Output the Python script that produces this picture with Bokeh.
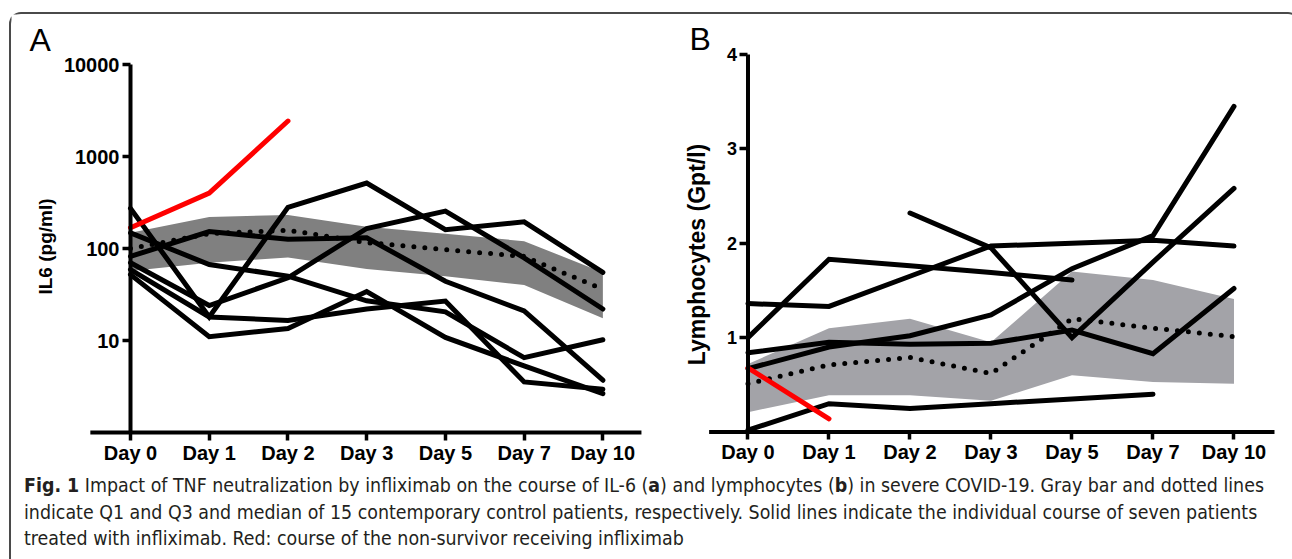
import math
from bokeh.plotting import figure
from bokeh.models import FixedTicker, Label, Div, Range1d, NumeralTickFormatter
from bokeh.layouts import column, row
from bokeh.embed import file_html
from bokeh.resources import INLINE

# ---------------- data ----------------
days = ["Day 0", "Day 1", "Day 2", "Day 3", "Day 5", "Day 7", "Day 10"]

# Panel A: IL-6 (pg/ml), log axis
il6_ticks = [10, 100, 1000, 10000]
il6_q1 = [57, 70, 80, 60, 50, 40, 17.5]
il6_q3 = [148, 220, 232, 172, 145, 120, 55]
il6_median = [100, 145, 158, 116, 97, 82, 36]
il6_p1 = [273, 18, 280, 515, 160, 195, 55]
il6_p2 = [70, 24, 48, 165, 255, 79, 22]
il6_p3 = [82, 153, 126, 131, 44, 21, 3.7]
il6_p4 = [148, 67, 50, 27, 20.5, 6.5, 10.2]
il6_p5 = [59, 18, 16.5, 22, 26.8, 3.55, 2.95]
il6_p6 = [52, 11, 13.5, 34, 10.8, 5.3, 2.65]
il6_nonsurvivor = [168, 400, 2430, None, None, None, None]

# Panel B: lymphocytes (Gpt/l)
lym_ticks = [1, 2, 3, 4]
lym_q1 = [0.21, 0.39, 0.39, 0.33, 0.60, 0.53, 0.51]
lym_q3 = [0.72, 1.10, 1.20, 0.95, 1.70, 1.61, 1.41]
lym_median = [0.51, 0.71, 0.79, 0.62, 1.20, 1.10, 1.01]
lym_p1 = [1.36, 1.33, 1.65, 1.97, 2.00, 2.03, 1.97]
lym_p2 = [1.00, 1.83, 1.76, 1.69, 1.61, None, None]
lym_p3 = [None, None, 2.32, 1.95, 1.00, 1.80, 2.58]
lym_p4 = [0.67, 0.90, 1.02, 1.24, 1.73, 2.08, 3.45]
lym_p5 = [0.84, 0.95, 0.93, 0.94, 1.08, 0.83, 1.52]
lym_p6 = [0.02, 0.30, 0.25, 0.30, 0.35, 0.40, None]
lym_nonsurvivor = [0.68, 0.14, None, None, None, None, None]

caption_lines = [
    "<b>Fig. 1</b> Impact of TNF neutralization by infliximab on the course of IL-6 (<b>a</b>) and lymphocytes (<b>b</b>) in severe COVID-19. Gray bar and dotted lines",
    "indicate Q1 and Q3 and median of 15 contemporary control patients, respectively. Solid lines indicate the individual course of seven patients",
    "treated with infliximab. Red: course of the non-survivor receiving infliximab",
]

x = list(range(len(days)))
AX_FONT = "Liberation Sans"


def pts(vals):
    xs = [i for i, v in enumerate(vals) if v is not None]
    ys = [v for v in vals if v is not None]
    return xs, ys


def style(p, yticks, ybase, ytick_size):
    p.grid.visible = False
    p.outline_line_color = None
    p.background_fill_color = "white"
    p.border_fill_color = "white"
    p.xaxis.ticker = FixedTicker(ticks=x)
    p.xaxis.major_label_overrides = {i: d for i, d in enumerate(days)}
    p.yaxis.ticker = FixedTicker(ticks=yticks)
    p.yaxis.formatter = NumeralTickFormatter(format="0")
    p.yaxis.fixed_location = 0
    p.xaxis.fixed_location = ybase
    for ax in (p.xaxis, p.yaxis):
        ax.axis_line_color = None
        ax.major_tick_line_width = 3.5
        ax.major_tick_line_color = "black"
        ax.major_tick_in = 0
        ax.major_tick_out = 8
        ax.minor_tick_line_color = None
        ax.major_label_text_font = AX_FONT
        ax.major_label_text_font_style = "bold"
        ax.major_label_text_color = "black"
    p.xaxis.major_label_standoff = 1
    p.yaxis.major_label_standoff = 3
    p.xaxis.major_label_text_font_size = "20px"
    p.yaxis.major_label_text_font_size = ytick_size


def text_label(p, sx, sy, text, size, bold=False, angle=0.0):
    p.add_layout(Label(x=sx, y=sy, x_units="screen", y_units="screen", text=text,
                       angle=angle, text_font=AX_FONT, text_font_size=size,
                       text_font_style="bold" if bold else "normal",
                       text_align="center" if angle else "left", text_baseline="middle",
                       text_color="black"))


def draw(p, q1, q3, median, patients, nonsurvivor, band_color, ybase, ytop, xspan):
    p.varea(x=x, y1=q1, y2=q3, fill_color=band_color, fill_alpha=1.0)
    p.line(x, median, line_color="black", line_width=5, line_dash="0 11", line_cap="round")
    for s in patients:
        xs, ys = pts(s)
        p.line(xs, ys, line_color="black", line_width=5, line_join="miter", line_cap="round")
    xs, ys = pts(nonsurvivor)
    p.line(xs, ys, line_color="#fe0000", line_width=5, line_join="miter", line_cap="round")
    # axis lines (Prism style: x axis overhangs on both sides, y axis stops at top tick)
    p.segment(x0=[xspan[0]], y0=[ybase], x1=[xspan[1]], y1=[ybase], line_color="black", line_width=4)
    p.segment(x0=[0], y0=[ybase], x1=[0], y1=[ytop], line_color="black", line_width=4)


FIG_H = 454

# ---------------- panel A ----------------
pA = figure(width=649, height=FIG_H,
            x_range=Range1d(-1.5115, 6.732), y_range=Range1d(10 ** -0.3913, 10 ** 4.5435),
            y_axis_type="log", min_border=0,
            output_backend="svg", toolbar_location=None)
draw(pA, il6_q1, il6_q3, il6_median,
     [il6_p1, il6_p2, il6_p3, il6_p4, il6_p5, il6_p6], il6_nonsurvivor, "#808080",
     1, il6_ticks[-1], (-0.51, 6.49))
style(pA, il6_ticks, 1, "20px")
text_label(pA, 18, 429, "A", "32px")
text_label(pA, 34, 222, "IL6 (pg/ml)", "19px", bold=True, angle=math.pi / 2)

# ---------------- panel B ----------------
pB = figure(width=628, height=FIG_H,
            x_range=Range1d(-1.0802, 6.673), y_range=Range1d(-0.3867, 4.4227),
            min_border=0,
            output_backend="svg", toolbar_location=None)
draw(pB, lym_q1, lym_q3, lym_median,
     [lym_p1, lym_p2, lym_p3, lym_p4, lym_p5, lym_p6], lym_nonsurvivor, "#a3a3a8",
     0, lym_ticks[-1], (-0.48, 6.5))
style(pB, lym_ticks, 0, "18px")
text_label(pB, 29, 430, "B", "32px")
text_label(pB, 36, 214, "Lymphocytes (Gpt/l)", "23px", bold=True, angle=math.pi / 2)

for p in (pA, pB):
    p.align = "start"

# ---------------- caption ----------------
cap = Div(text="<br>".join(caption_lines), width=1277, height=90,
          styles={"font-family": "'Liberation Sans Narrow', 'DejaVu Sans Condensed', 'Open Sans'",
                  "font-size": "19.4px", "line-height": "26.5px", "white-space": "nowrap",
                  "color": "#231f20", "padding-left": "8px", "padding-top": "0px",
                  "box-sizing": "border-box", "overflow": "hidden"})

root = column(row(pA, pB), cap, margin=(12, 0, 0, 9),
              styles={"border": "2px solid #4a4a4a", "border-bottom": "none",
                      "border-radius": "12px 12px 0 0", "background": "white"})

open("out.html", "w").write(file_html(root, INLINE))
